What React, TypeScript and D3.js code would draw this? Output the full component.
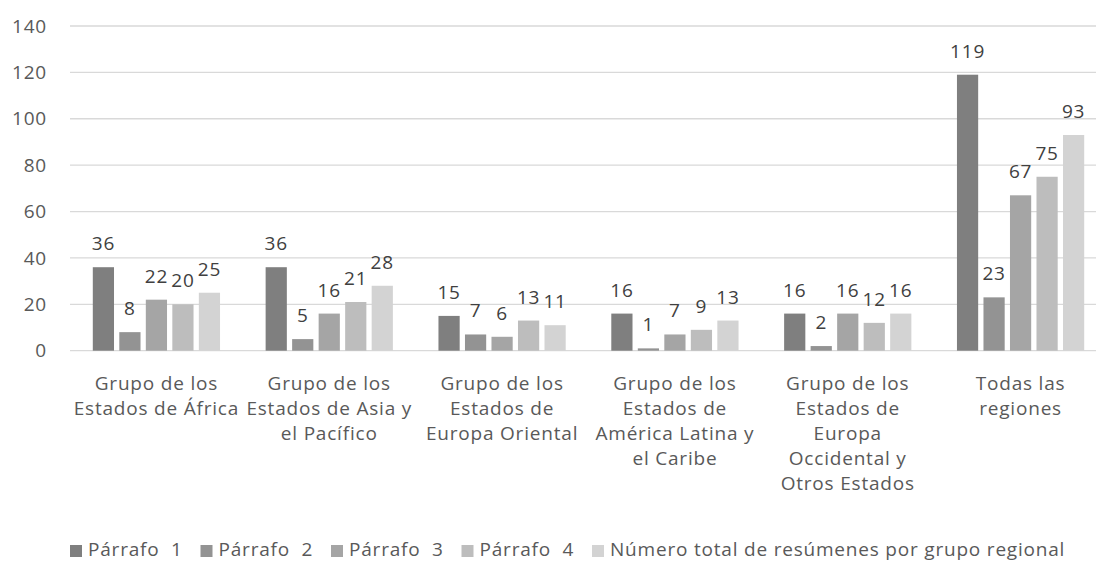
import * as d3 from "d3";
import { useEffect, useRef } from "react";

const categories = [
  ["Grupo de los", "Estados de África"],
  ["Grupo de los", "Estados de Asia y", "el Pacífico"],
  ["Grupo de los", "Estados de", "Europa Oriental"],
  ["Grupo de los", "Estados de", "América Latina y", "el Caribe"],
  ["Grupo de los", "Estados de", "Europa", "Occidental y", "Otros Estados"],
  ["Todas las", "regiones"],
];

const seriesNames = ["Párrafo  1", "Párrafo  2", "Párrafo  3", "Párrafo  4", "Número total de resúmenes por grupo regional"];

const parrafo1 = [36, 36, 15, 16, 16, 119];
const parrafo2 = [8, 5, 7, 1, 2, 23];
const parrafo3 = [22, 16, 6, 7, 16, 67];
const parrafo4 = [20, 21, 13, 9, 12, 75];
const totales = [25, 28, 11, 13, 16, 93];

const yTicks = [0, 20, 40, 60, 80, 100, 120, 140];

const colors = ["#7f7f7f", "#939393", "#a5a5a5", "#bdbdbd", "#d3d3d3"];

export default function App() {
  const ref = useRef<SVGSVGElement>(null);

  useEffect(() => {
    const svg = d3.select(ref.current);
    svg.selectAll("*").remove();

    const width = 1096;
    const font = "'Open Sans', sans-serif";
    const fs = 19;
    const ls = 0.8;

    const allSeries = [parrafo1, parrafo2, parrafo3, parrafo4, totales];
    const keys = d3.range(categories.length).map(String);

    const x0 = d3.scaleBand()
      .domain(keys)
      .range([70, 1107])
      .padding(0);

    const x1 = d3.scaleBand()
      .domain(seriesNames)
      .range([0, x0.bandwidth()])
      .paddingInner(0.2)
      .paddingOuter(0.86);

    const y = d3.scaleLinear()
      .domain([0, 140])
      .range([350.7, 26]);

    // gridlines
    svg.append("g")
      .selectAll("line")
      .data(yTicks)
      .join("line")
      .attr("x1", 70)
      .attr("x2", width)
      .attr("y1", d => y(d))
      .attr("y2", d => y(d))
      .attr("stroke", "#d9d9d9")
      .attr("stroke-width", 1.3);

    svg.append("g")
      .selectAll("text")
      .data(yTicks)
      .join("text")
      .attr("x", 47)
      .attr("y", d => y(d))
      .attr("dy", "0.35em")
      .attr("text-anchor", "end")
      .attr("font-family", font)
      .attr("font-size", fs)
      .attr("letter-spacing", ls)
      .attr("fill", "#595959")
      .text(d => d);

    const groups = svg.append("g")
      .selectAll("g")
      .data(keys)
      .join("g")
      .attr("transform", d => `translate(${x0(d)},0)`);

    const cells = (k: string) =>
      seriesNames.map((s, i) => ({ s, i, v: allSeries[i][+k] }));

    groups.selectAll("rect")
      .data(k => cells(k))
      .join("rect")
      .attr("x", d => x1(d.s)!)
      .attr("y", d => y(d.v))
      .attr("width", x1.bandwidth())
      .attr("height", d => y(0) - y(d.v))
      .attr("fill", d => colors[d.i]);

    groups.selectAll("text.lbl")
      .data(k => cells(k))
      .join("text")
      .attr("class", "lbl")
      .attr("x", d => x1(d.s)! + x1.bandwidth() / 2)
      .attr("y", d => y(d.v) - 17)
      .attr("text-anchor", "middle")
      .attr("font-family", font)
      .attr("font-size", fs)
      .attr("letter-spacing", ls)
      .attr("fill", "#404040")
      .text(d => d.v);

    // category labels
    groups.each(function (k) {
      const lines = categories[+k];
      d3.select(this).append("text")
        .attr("text-anchor", "middle")
        .attr("font-family", font)
        .attr("font-size", fs)
        .attr("letter-spacing", ls)
        .attr("fill", "#595959")
        .selectAll("tspan")
        .data(lines)
        .join("tspan")
        .attr("x", x0.bandwidth() / 2)
        .attr("y", (_, i) => 390 + i * 25)
        .text(d => d);
    });

    // legend
    const legend = svg.append("g")
      .selectAll("g")
      .data(seriesNames)
      .join("g")
      .attr("transform", (_, i) => `translate(${70 + i * 130.5},0)`);

    legend.append("rect")
      .attr("x", 0)
      .attr("y", 545)
      .attr("width", 12)
      .attr("height", 12)
      .attr("fill", (_, i) => colors[i]);

    legend.append("text")
      .attr("x", 18)
      .attr("y", 556)
      .attr("font-family", font)
      .attr("font-size", fs)
      .attr("letter-spacing", ls)
      .attr("fill", "#595959")
      .style("white-space", "pre")
      .text(d => d);
  }, []);

  return (
    <svg
      ref={ref}
      width={1096}
      height={562}
      style={{ position: "absolute", left: 0, top: 0, background: "#fff" }}
    />
  );
}
